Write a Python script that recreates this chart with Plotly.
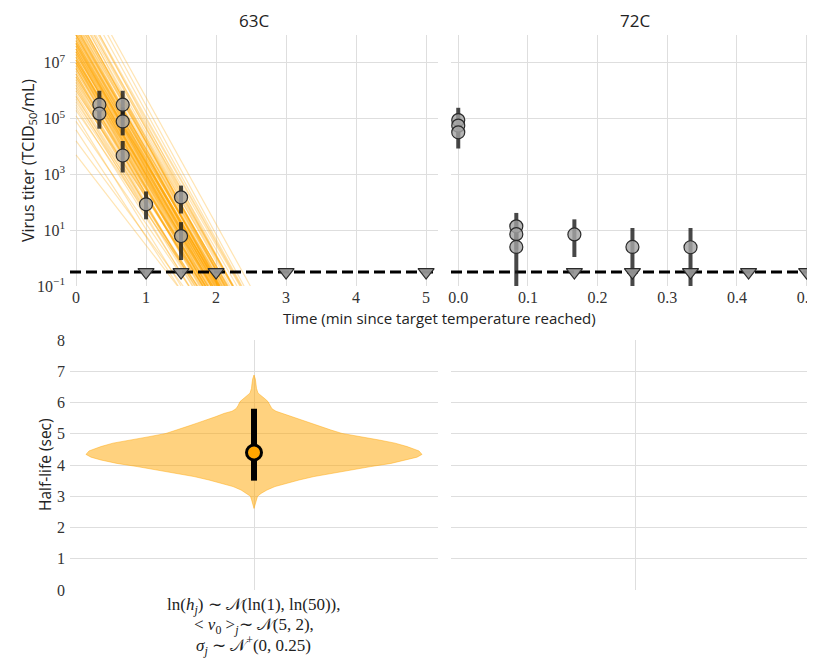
import plotly.graph_objects as go

# ---------------- data ----------------
# 63C observed titers (log10 TCID50/mL) with error bar bounds
t63 = [1/3, 1/3, 2/3, 2/3, 2/3, 1.0, 1.5, 1.5]
v63 = [5.5, 5.18, 5.5, 4.9, 3.68, 1.93, 2.18, 0.79]
lo63 = [5.0, 4.64, 5.0, 4.4, 3.07, 1.39, 1.6, -0.07]
hi63 = [6.0, 5.68, 6.0, 5.4, 4.2, 2.39, 2.6, 1.29]
t63_nd = [1.0, 1.5, 2.0, 3.0, 5.0]          # below detection

# 72C observed titers
t72 = [0.0, 0.0, 0.0, 1/12, 1/12, 1/12, 1/6, 0.25, 1/3]
v72 = [4.95, 4.75, 4.51, 1.14, 0.86, 0.40, 0.85, 0.40, 0.39]
lo72 = [4.5, 4.3, 3.93, 0.6, 0.3, -1.3, 0.04, -1.3, -1.3]
hi72 = [5.39, 5.2, 4.95, 1.62, 1.35, 0.9, 1.39, 1.08, 1.08]
t72_nd = [1/6, 0.25, 1/3, 5/12, 0.5]

lod_log10 = -0.5   # detection limit (log10)

# posterior regression lines: log10 titer at t=0 and time where line reaches 10^-1
line_v0 = [3.7, 4.2, 4.6, 4.9, 5.1, 5.3, 5.4, 5.6, 5.7, 5.8, 5.9, 6.0, 6.1, 6.2,
           6.3, 6.3, 6.4, 6.5, 6.6, 6.6, 6.7, 6.8, 6.8, 6.9, 7.0, 7.0, 7.1, 7.1,
           7.2, 7.2, 7.3, 7.3, 7.4, 7.4, 7.5, 7.5, 7.6, 7.6, 7.7, 7.7, 7.8, 7.9,
           7.9, 8.0, 8.1, 8.1, 8.2, 8.3, 8.4, 8.5, 8.6, 8.7, 8.8, 8.9, 9.0, 9.1,
           9.3, 9.4, 9.6, 9.8, 10.1, 10.3, 6.9, 7.3, 7.6, 8.0, 7.1, 6.5, 7.8, 8.3,
           5.5, 5.8, 6.0, 6.2, 6.4, 6.5, 6.6, 6.7, 6.8, 6.9, 7.0, 7.0, 7.1, 7.2,
           7.2, 7.3, 7.4, 7.4, 7.5, 7.5, 7.6, 7.7, 7.7, 7.8, 7.8, 7.9, 8.0, 8.0,
           8.1, 8.2, 8.2, 8.3, 8.4, 8.5, 8.6, 8.7, 8.8, 9.0, 9.2, 9.5, 6.1, 6.8,
           7.1, 7.4, 7.7, 8.0, 8.3, 8.6, 7.0, 7.5]
line_tend = [1.45, 1.53, 1.46, 1.61, 1.50, 1.73, 1.62, 1.74, 1.61, 1.73, 1.73, 1.82,
             1.70, 1.81, 1.69, 1.89, 1.78, 1.88, 1.76, 1.86, 1.85, 1.95, 1.81, 1.93,
             1.80, 2.00, 1.89, 1.98, 1.85, 1.95, 1.95, 2.03, 1.91, 2.01, 1.88, 2.08,
             1.97, 2.06, 1.93, 2.03, 2.03, 2.13, 1.99, 2.10, 1.98, 2.18, 2.06, 2.17,
             2.05, 2.16, 2.16, 2.25, 2.13, 2.25, 2.12, 2.34, 2.24, 2.35, 2.24, 2.37,
             2.40, 2.49, 1.84, 2.00, 2.04, 2.02, 1.93, 1.79, 2.09, 2.12,
             1.71, 1.66, 1.84, 1.67, 1.81, 1.85, 1.77, 1.93, 1.85, 1.95, 1.95, 1.85,
             2.02, 1.83, 1.93, 1.98, 1.90, 2.05, 1.96, 2.04, 2.05, 1.96, 2.11, 1.93,
             2.03, 2.08, 1.99, 2.14, 2.06, 2.15, 2.14, 2.06, 2.23, 2.04, 2.16, 2.20,
             2.12, 2.30, 2.23, 2.36, 1.81, 1.82, 2.02, 1.87, 2.01, 2.09, 2.04, 2.24,
             1.88, 2.04]

# half-life posterior violin profile (sec) and relative density
hl_vals = [2.61, 2.75, 2.9, 3.0, 3.09, 3.2, 3.31, 3.42, 3.52, 3.63, 3.73, 3.84,
           3.95, 4.05, 4.16, 4.25, 4.34, 4.45, 4.59, 4.7, 4.8, 4.9, 5.01, 5.12,
           5.23, 5.34, 5.44, 5.55, 5.65, 5.72, 5.8, 5.9, 6.03, 6.12, 6.2, 6.3,
           6.45, 6.6, 6.75, 6.88]
hl_dens = [0.0, 0.009, 0.015, 0.021, 0.042, 0.077, 0.125, 0.196, 0.268, 0.357,
           0.458, 0.577, 0.696, 0.815, 0.911, 0.970, 1.0, 0.982, 0.911, 0.839,
           0.745, 0.631, 0.524, 0.458, 0.399, 0.339, 0.280, 0.226, 0.179, 0.131,
           0.107, 0.095, 0.083, 0.065, 0.048, 0.024, 0.015, 0.012, 0.008, 0.0]
hl_median = 4.4
hl_ci = [3.5, 5.8]

xticks63 = [0, 1, 2, 3, 4, 5]
xticks72 = [0.0, 0.1, 0.2, 0.3, 0.4, 0.5]
yticks_log = [-1, 1, 3, 5, 7]
yticks_hl = [0, 1, 2, 3, 4, 5, 6, 7, 8]
prior_lines = ["ln(<i>h<sub>j</sub></i>) ∼ 𝒩(ln(1), ln(50)),",
               "&lt; <i>v</i><sub>0</sub> &gt;<sub><i>j</i></sub>∼ 𝒩(5, 2),",
               "<i>σ<sub>j</sub></i> ∼ 𝒩<sup>+</sup>(0, 0.25)"]

# ---------------- figure ----------------
# the page places the figure 8px from the top-left corner (body margin)
OFF = 8
PAGE_W, PAGE_H = 815, 662
W, H = PAGE_W - OFF, PAGE_H - OFF
SERIF = "Liberation Serif"
SANS = "Open Sans"
ORANGE = "rgb(255,165,0)"
GRID = "#dedede"

fig = go.Figure()

# posterior lines
lx, ly = [], []
for v0, te in zip(line_v0, line_tend):
    lx += [0, te, None]
    ly += [10 ** v0, 10 ** -1, None]
fig.add_trace(go.Scatter(x=lx, y=ly, mode="lines", xaxis="x", yaxis="y",
                         line=dict(color="rgba(255,165,0,0.3)", width=1.2),
                         hoverinfo="skip", showlegend=False))

X63 = [-0.086, 5.17]
X72 = [-0.0104, 0.512]

# detection limit lines
for xa, rng in (("x", X63), ("x2", X72)):
    fig.add_trace(go.Scatter(x=rng, y=[10 ** lod_log10] * 2, mode="lines",
                             xaxis=xa, yaxis="y",
                             line=dict(color="black", width=3, dash="11px,5px"),
                             hoverinfo="skip", showlegend=False))


def obs_trace(t, v, lo, hi, xa):
    y = [10 ** a for a in v]
    up = [10 ** h - 10 ** a for a, h in zip(v, hi)]
    dn = [10 ** a - 10 ** l for a, l in zip(v, lo)]
    return go.Scatter(x=t, y=y, mode="markers", xaxis=xa, yaxis="y",
                      marker=dict(size=13, color="rgba(165,165,165,0.82)",
                                  line=dict(color="#2a2a2a", width=1.2)),
                      error_y=dict(type="data", symmetric=False, array=up,
                                   arrayminus=dn, thickness=4, width=0,
                                   color="rgba(25,25,25,0.8)"),
                      showlegend=False)


def nd_trace(t, xa):
    return go.Scatter(x=t, y=[10 ** lod_log10] * len(t), mode="markers",
                      xaxis=xa, yaxis="y",
                      marker=dict(symbol="triangle-down", size=14,
                                  color="rgba(150,150,150,0.95)",
                                  line=dict(color="#2a2a2a", width=1.2)),
                      showlegend=False)


fig.add_trace(obs_trace(t63, v63, lo63, hi63, "x"))
fig.add_trace(nd_trace(t63_nd, "x"))
fig.add_trace(obs_trace(t72, v72, lo72, hi72, "x2"))
fig.add_trace(nd_trace(t72_nd, "x2"))

# violin
VW = 0.913
vx = [d * VW for d in hl_dens] + [-d * VW for d in reversed(hl_dens)]
vy = hl_vals + list(reversed(hl_vals))
fig.add_trace(go.Scatter(x=vx, y=vy, mode="lines", fill="toself",
                         xaxis="x3", yaxis="y3",
                         fillcolor="rgba(255,165,0,0.5)",
                         line=dict(color="rgba(255,165,0,0.45)", width=1),
                         hoverinfo="skip", showlegend=False))
fig.add_trace(go.Scatter(x=[0, 0], y=hl_ci, mode="lines", xaxis="x3", yaxis="y3",
                         line=dict(color="black", width=6),
                         hoverinfo="skip", showlegend=False))
fig.add_trace(go.Scatter(x=[0], y=[hl_median], mode="markers", xaxis="x3", yaxis="y3",
                         marker=dict(size=15, color=ORANGE,
                                     line=dict(color="black", width=3)),
                         showlegend=False))
# empty panel placeholder
fig.add_trace(go.Scatter(x=[None], y=[None], xaxis="x4", yaxis="y4",
                         showlegend=False, hoverinfo="skip"))

px = lambda p: (p - OFF) / W
py = lambda p: 1 - (p - OFF) / H

tickfont = dict(family=SERIF, size=16, color="#333333")
common = dict(showline=False, zeroline=False, ticks="", gridcolor=GRID,
              gridwidth=1, tickfont=tickfont, automargin=False,
              ticklabeloverflow="allow")

fig.update_layout(
    template="plotly_white",
    font=dict(family=SERIF, size=16, color="#333333"),
    width=W, height=H, margin=dict(l=0, r=0, t=0, b=0, pad=0), autosize=False,
    paper_bgcolor="white", plot_bgcolor="white",
    xaxis=dict(domain=[px(70), px(438)], range=X63, tickvals=xticks63,
               anchor="y", **common),
    xaxis2=dict(domain=[px(451), 1.0], range=X72, tickvals=xticks72,
                ticktext=[f"{v:.1f}" for v in xticks72], anchor="y2", **common),
    yaxis=dict(domain=[py(286), py(35)], type="log", range=[-1, 8],
               tickvals=[10 ** k for k in yticks_log],
               ticktext=[f"10<sup>{str(k).replace('-', '−')}</sup>" for k in yticks_log],
               anchor="x", ticklabelstandoff=4, **common),
    yaxis2=dict(domain=[py(286), py(35)], type="log", range=[-1, 8],
                tickvals=[10 ** k for k in yticks_log], showticklabels=False,
                anchor="x2", matches="y", **common),
    xaxis3=dict(domain=[px(70), px(438)], range=[-1, 1], tickvals=[0],
                showticklabels=False, anchor="y3", **common),
    yaxis3=dict(domain=[py(590), py(340)], range=[0, 8], tickvals=yticks_hl,
                anchor="x3", ticklabelstandoff=4, **common),
    xaxis4=dict(domain=[px(451), 1.0], range=[-1, 0.968], tickvals=[0],
                showticklabels=False, anchor="y4", **common),
    yaxis4=dict(domain=[py(590), py(340)], range=[0, 8], tickvals=yticks_hl,
                showticklabels=False, anchor="x4", **common),
)

ann = [
    dict(text="63C", x=px(254), y=py(21), font=dict(family=SANS, size=17, color="#222")),
    dict(text="72C", x=px(635), y=py(21), font=dict(family=SANS, size=17, color="#222")),
    dict(text="Time (min since target temperature reached)", x=px(439), y=py(318),
         font=dict(family=SANS, size=15, color="#222")),
    dict(text="Virus titer (TCID<sub>50</sub>/mL)", x=px(28), y=py(161), textangle=-90,
         font=dict(family=SANS, size=16, color="#222")),
    dict(text="Half-life (sec)", x=px(45), y=py(465), textangle=-90,
         font=dict(family=SANS, size=15.5, color="#222")),
]
for line, yy in zip(prior_lines, [606, 626, 645]):
    ann.append(dict(text=line, x=px(254), y=py(yy),
                    font=dict(family=SERIF, size=17, color="#222")))
for a in ann:
    a.update(xref="paper", yref="paper", showarrow=False)
    a.setdefault("yanchor", "middle")
    a.setdefault("xanchor", "center")
fig.update_layout(annotations=ann)

fig.write_html("out.html")
